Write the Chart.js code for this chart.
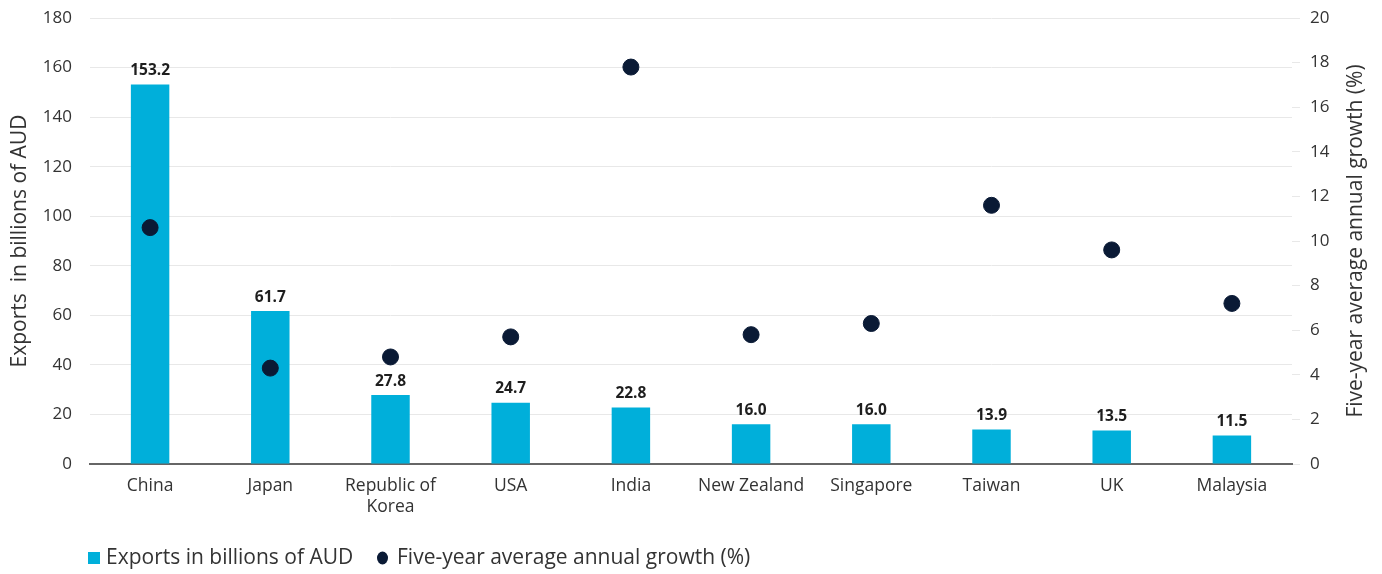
<!DOCTYPE html>
<html lang="en">

<head>
  <meta charset="UTF-8">
  <title>Exports by destination</title>
  <script src="https://cdn.jsdelivr.net/npm/chart.js@4.4.0/dist/chart.umd.min.js"></script>
  <style>
    html, body { margin: 0; padding: 0; background: #fff; }
    .chart-wrap { width: 1382px; height: 574px; position: relative; }
  </style>
</head>

<body>
  <div class="chart-wrap">
    <canvas id="exportsChart"></canvas>
  </div>

  <script>
    // data
    const countries = ['China', 'Japan', ['Republic of', 'Korea'], 'USA', 'India', 'New Zealand', 'Singapore', 'Taiwan', 'UK', 'Malaysia'];
    const exportsAud = [153.2, 61.7, 27.8, 24.7, 22.8, 16.0, 16.0, 13.9, 13.5, 11.5];
    const growthPct = [10.6, 4.3, 4.8, 5.7, 17.8, 5.8, 6.3, 11.6, 9.6, 7.2];
    const leftTicks = [0, 20, 40, 60, 80, 100, 120, 140, 160, 180];
    const rightTicks = [0, 2, 4, 6, 8, 10, 12, 14, 16, 18, 20];

    const barColor = '#00AFDA';
    const dotColor = '#0A1A35';
    const textColor = '#333333';
    const fontFamily = '"Open Sans", "Noto Sans", sans-serif';

    // values above the bars
    const barLabels = {
      id: 'barLabels',
      afterDatasetsDraw(chart) {
        const ctx = chart.ctx;
        const meta = chart.getDatasetMeta(0);
        ctx.save();
        ctx.font = `bold 15.5px ${fontFamily}`;
        ctx.fillStyle = '#1e1e1e';
        ctx.textAlign = 'center';
        ctx.textBaseline = 'bottom';
        meta.data.forEach((bar, i) => {
          ctx.fillText(exportsAud[i].toFixed(1), bar.x, bar.y - 6);
        });
        ctx.restore();
      }
    };

    // right axis title (bottom-to-top) and legend row
    const extras = {
      id: 'extras',
      afterDraw(chart) {
        const ctx = chart.ctx;
        const area = chart.chartArea;
        ctx.save();
        ctx.translate(1356, (area.top + area.bottom) / 2);
        ctx.rotate(-Math.PI / 2);
        ctx.font = `21px ${fontFamily}`;
        ctx.fillStyle = textColor;
        ctx.textAlign = 'center';
        ctx.textBaseline = 'middle';
        ctx.fillText('Five-year average annual growth (%)', 0, 0);
        ctx.restore();

        const ds = chart.data.datasets;
        const ly = 558;
        ctx.save();
        ctx.font = `21px ${fontFamily}`;
        ctx.textBaseline = 'middle';
        ctx.textAlign = 'left';
        ctx.fillStyle = barColor;
        ctx.fillRect(88, ly - 6, 12, 12);
        ctx.fillStyle = textColor;
        ctx.fillText(ds[0].label, 106, ly);
        ctx.fillStyle = dotColor;
        ctx.beginPath();
        ctx.ellipse(382.5, ly, 5.5, 6.5, 0, 0, Math.PI * 2);
        ctx.fill();
        ctx.fillStyle = textColor;
        ctx.fillText(ds[1].label, 397, ly);
        ctx.restore();
      }
    };

    // fixed axis sizes so the plot area sits where the reference has it
    const fitSide = s => { s.width = 90; s.paddingTop = 0; s.paddingBottom = 0; };

    const ctx = document.getElementById('exportsChart').getContext('2d');

    new Chart(ctx, {
      data: {
        labels: countries,
        datasets: [{
          type: 'bar',
          label: 'Exports in billions of AUD',
          data: exportsAud,
          backgroundColor: barColor,
          yAxisID: 'y',
          barPercentage: 0.32,
          categoryPercentage: 1,
          order: 2
        }, {
          type: 'line',
          label: 'Five-year average annual growth (%)',
          data: growthPct,
          showLine: false,
          backgroundColor: dotColor,
          borderColor: dotColor,
          pointRadius: 8,
          pointHoverRadius: 8,
          yAxisID: 'y1',
          order: 1
        }]
      },
      options: {
        responsive: true,
        maintainAspectRatio: false,
        animation: false,
        layout: { padding: { top: 18, bottom: 0, left: 0, right: 0 } },
        plugins: {
          tooltip: { enabled: false },
          legend: { display: false }
        },
        scales: {
          x: {
            grid: { display: false, drawTicks: false },
            border: { display: true, color: '#666666', width: 2 },
            ticks: {
              color: textColor,
              padding: 12,
              maxRotation: 0,
              autoSkip: false,
              font: { family: fontFamily, size: 17.5 }
            },
            afterFit: s => { s.height = 110; s.paddingLeft = 0; s.paddingRight = 0; }
          },
          y: {
            position: 'left',
            min: 0,
            max: 180,
            afterBuildTicks: s => { s.ticks = leftTicks.map(v => ({ value: v })); },
            grid: { color: '#e8e8e8', drawTicks: false },
            border: { display: false },
            ticks: {
              color: textColor,
              padding: 18,
              font: { family: fontFamily, size: 17 }
            },
            title: {
              display: true,
              text: 'Exports  in billions of AUD',
              color: textColor,
              padding: { top: 7, bottom: 0 },
              font: { family: fontFamily, size: 21 }
            },
            afterFit: fitSide
          },
          y1: {
            position: 'right',
            min: 0,
            max: 20,
            afterBuildTicks: s => { s.ticks = rightTicks.map(v => ({ value: v })); },
            grid: { drawOnChartArea: false, color: '#e8e8e8', tickLength: 8 },
            border: { display: false },
            ticks: {
              color: textColor,
              padding: 10,
              font: { family: fontFamily, size: 17 }
            },
            afterFit: fitSide
          }
        }
      },
      plugins: [barLabels, extras]
    });
  </script>
</body>

</html>
